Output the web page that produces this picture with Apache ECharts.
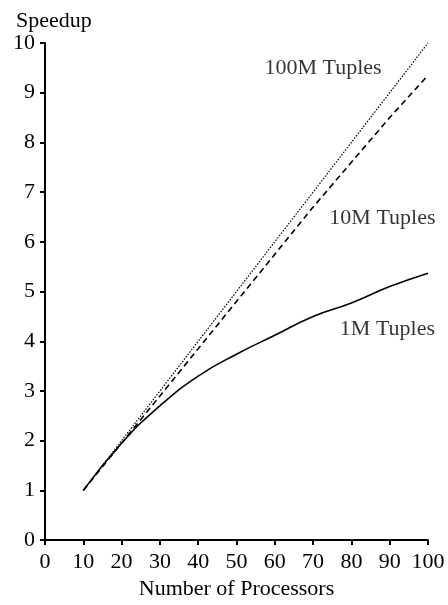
<!DOCTYPE html>
<html>
<head>
<meta charset="utf-8">
<script src="https://cdn.jsdelivr.net/npm/echarts@6/dist/echarts.min.js"></script>
<style>
  html, body { margin: 0; padding: 0; background: #fff; }
  #chart { width: 448px; height: 605px; }
</style>
</head>
<body>
<div id="chart"></div>
<script>
// processors on the x axis
var processors = [10, 20, 30, 40, 50, 60, 70, 80, 90, 100];
// speedup per data size
var speed100M = [1, 2, 3, 4, 5, 6, 7, 8, 9, 10];
var speed10M = [1, 1.95, 2.9, 3.85, 4.8, 5.75, 6.7, 7.6, 8.5, 9.35];
var speed1M = [1, 1.95, 2.7, 3.3, 3.74, 4.12, 4.5, 4.77, 5.1, 5.37];
// curve labels, anchored in data space
var curveNames = ['100M Tuples', '10M Tuples', '1M Tuples'];
var labelAt = [[72.6, 9.5], [88.1, 6.48], [89.4, 4.24]];

var font = 'Liberation Serif, Times New Roman, serif';

function pairs(ys) {
  return processors.map(function (x, i) { return [x, ys[i]]; });
}

function curve(idx, ys, lineType) {
  return {
    name: curveNames[idx],
    type: 'line',
    data: pairs(ys),
    smooth: idx === 2 ? 0.5 : false,
    symbol: 'none',
    silent: true,
    lineStyle: { color: '#000', width: idx === 0 ? 1.2 : 1.6, type: lineType }
  };
}

var chart = echarts.init(document.getElementById('chart'));
chart.setOption({
  animation: false,
  title: {
    text: 'Speedup',
    left: 11,
    top: 5,
    textStyle: { fontFamily: font, fontSize: 22, fontWeight: 'normal', color: '#000' }
  },
  grid: { left: 45, right: 20, top: 43, bottom: 58 },
  xAxis: {
    type: 'value',
    min: 0,
    max: 100,
    interval: 10,
    name: 'Number of Processors',
    nameLocation: 'middle',
    nameGap: 35,
    nameTextStyle: { fontFamily: font, fontSize: 22, color: '#000' },
    axisLine: { lineStyle: { color: '#000', width: 2 } },
    axisTick: { inside: false, length: 5, lineStyle: { color: '#000', width: 2 } },
    axisLabel: { fontFamily: font, fontSize: 22, color: '#000', margin: 11 },
    splitLine: { show: false }
  },
  yAxis: {
    type: 'value',
    min: 0,
    max: 10,
    interval: 1,
    axisLine: { show: true, lineStyle: { color: '#000', width: 2 } },
    axisTick: { show: true, length: 5, lineStyle: { color: '#000', width: 2 } },
    axisLabel: { fontFamily: font, fontSize: 22, color: '#000', margin: 10 },
    splitLine: { show: false }
  },
  series: [
    curve(0, speed100M, [1.5, 1.5]),
    curve(1, speed10M, [6, 4]),
    curve(2, speed1M, 'solid'),
    {
      type: 'scatter',
      silent: true,
      symbolSize: 1,
      itemStyle: { color: 'rgba(0,0,0,0)' },
      data: labelAt,
      label: {
        show: true,
        position: 'inside',
        formatter: function (p) { return curveNames[p.dataIndex]; },
        color: '#000',
        fontFamily: font,
        fontSize: 22
      }
    }
  ]
});
</script>
</body>
</html>
